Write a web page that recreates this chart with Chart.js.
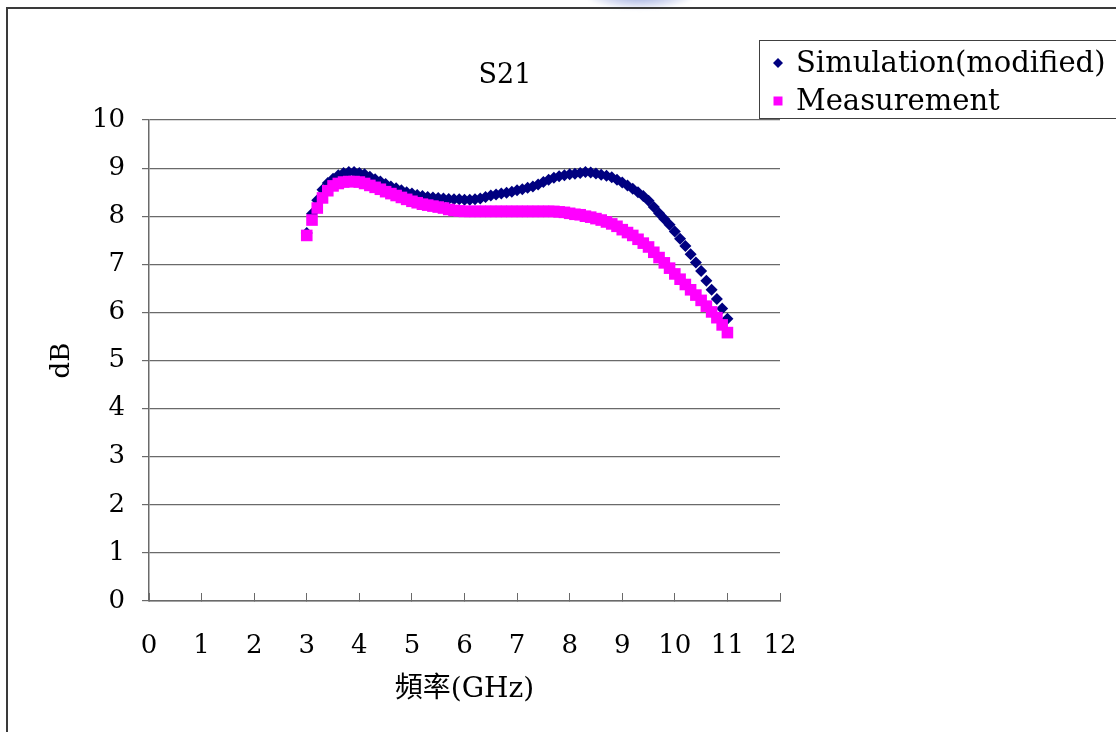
<!DOCTYPE html>
<html>
<head>
<meta charset="utf-8">
<script src="https://cdn.jsdelivr.net/npm/chart.js@4.4.1/dist/chart.umd.min.js"></script>
<style>
  body { margin: 0; background: #fff; }
  #wrap { position: relative; width: 1116px; height: 732px; overflow: hidden; }
  #marco { position: absolute; left: 6px; top: 7px; right: -10px; bottom: -10px;
           border-top: 2px solid #3a3a3a; border-left: 2px solid #3a3a3a; }
  #logo { position: absolute; left: 585px; top: -20px; width: 110px; height: 30px; border-radius: 50%;
          background: radial-gradient(ellipse at center, rgba(110,130,205,0.7) 0%, rgba(150,165,220,0.4) 45%, rgba(255,255,255,0) 72%);
          filter: blur(1.5px); }
  canvas { position: absolute; left: 0; top: 0; }
</style>
</head>
<body>
<div id="wrap">
  <div id="logo"></div>
  <div id="marco"></div>
  <canvas id="grafico" width="1116" height="732"></canvas>
</div>
<script>
// frecuencia en GHz
const frecuencias = [
  3.0, 3.1, 3.2, 3.3, 3.4, 3.5, 3.6, 3.7, 3.8, 3.9,
  4.0, 4.1, 4.2, 4.3, 4.4, 4.5, 4.6, 4.7, 4.8, 4.9,
  5.0, 5.1, 5.2, 5.3, 5.4, 5.5, 5.6, 5.7, 5.8, 5.9,
  6.0, 6.1, 6.2, 6.3, 6.4, 6.5, 6.6, 6.7, 6.8, 6.9,
  7.0, 7.1, 7.2, 7.3, 7.4, 7.5, 7.6, 7.7, 7.8, 7.9,
  8.0, 8.1, 8.2, 8.3, 8.4, 8.5, 8.6, 8.7, 8.8, 8.9,
  9.0, 9.1, 9.2, 9.3, 9.4, 9.5, 9.6, 9.7, 9.8, 9.9,
  10.0, 10.1, 10.2, 10.3, 10.4, 10.5, 10.6, 10.7, 10.8, 10.9,
  11.0
];

// S21 en dB
const simulacion = [
  7.65, 8.05, 8.33, 8.55, 8.69, 8.78, 8.85, 8.90, 8.92, 8.92,
  8.90, 8.87, 8.82, 8.77, 8.72, 8.67, 8.62, 8.58, 8.54, 8.50,
  8.47, 8.44, 8.42, 8.40, 8.39, 8.38, 8.37, 8.36, 8.35, 8.35,
  8.34, 8.34, 8.35, 8.37, 8.40, 8.43, 8.45, 8.47, 8.49, 8.51,
  8.54, 8.56, 8.59, 8.62, 8.66, 8.71, 8.76, 8.80, 8.83, 8.85,
  8.87, 8.88, 8.90, 8.92, 8.91, 8.89, 8.86, 8.84, 8.81, 8.76,
  8.70, 8.64, 8.57, 8.50, 8.42, 8.32, 8.19, 8.06, 7.94, 7.82,
  7.68, 7.53, 7.38, 7.21, 7.04, 6.86, 6.66, 6.47, 6.28, 6.08,
  5.87
];

const medicion = [
  7.60, 7.92, 8.17, 8.38, 8.53, 8.63, 8.68, 8.71, 8.72, 8.72,
  8.71, 8.68, 8.64, 8.60, 8.56, 8.51, 8.47, 8.43, 8.39, 8.35,
  8.31, 8.28, 8.25, 8.23, 8.21, 8.19, 8.17, 8.14, 8.12, 8.11,
  8.10, 8.10, 8.10, 8.10, 8.10, 8.10, 8.10, 8.10, 8.10, 8.10,
  8.10, 8.10, 8.10, 8.10, 8.10, 8.10, 8.10, 8.10, 8.09, 8.08,
  8.06, 8.04, 8.03, 8.00, 7.98, 7.95, 7.92, 7.88, 7.84, 7.79,
  7.72, 7.66, 7.60, 7.52, 7.44, 7.36, 7.25, 7.14, 7.03, 6.92,
  6.80, 6.69, 6.58, 6.47, 6.36, 6.25, 6.13, 6.01, 5.89, 5.74,
  5.58
];

const ticksX = [0, 1, 2, 3, 4, 5, 6, 7, 8, 9, 10, 11, 12];
const ticksY = [0, 1, 2, 3, 4, 5, 6, 7, 8, 9, 10];

const fuente = "'DejaVu Serif', 'Noto Sans CJK TC', serif";
const gris = "#6a6a6a";

function armarPuntos(valores) {
  return frecuencias.map((f, i) => ({ x: f, y: valores[i] }));
}

// titulo y leyenda dibujados a mano (la leyenda se sale por la derecha)
const leyendaManual = {
  id: "leyendaManual",
  afterDraw(chart) {
    const ctx = chart.ctx;
    ctx.save();
    ctx.fillStyle = "#000";
    ctx.font = "27px " + fuente;
    ctx.textAlign = "center";
    ctx.textBaseline = "middle";
    ctx.fillText("S21", 505, 76);

    ctx.strokeStyle = "#404040";
    ctx.lineWidth = 1;
    ctx.fillStyle = "#fff";
    ctx.fillRect(759, 40, 400, 78);
    ctx.strokeRect(759.5, 40.5, 400, 78);

    const filas = [63, 101];
    chart.data.datasets.forEach((ds, i) => {
      const y = filas[i];
      ctx.fillStyle = ds.backgroundColor;
      ctx.beginPath();
      if (ds.pointStyle === "rectRot") {
        ctx.moveTo(778, y - 5);
        ctx.lineTo(783, y);
        ctx.lineTo(778, y + 5);
        ctx.lineTo(773, y);
      } else {
        ctx.rect(773.5, y - 4.5, 9, 9);
      }
      ctx.closePath();
      ctx.fill();
      ctx.fillStyle = "#000";
      ctx.font = "29px " + fuente;
      ctx.textAlign = "left";
      ctx.fillText(ds.label, 796, y + 1);
    });
    ctx.restore();
  }
};

const ctx = document.getElementById("grafico");
new Chart(ctx, {
  type: "scatter",
  data: {
    datasets: [
      {
        label: "Simulation(modified)",
        data: armarPuntos(simulacion),
        pointStyle: "rectRot",
        pointRadius: 6,
        backgroundColor: "#000080",
        borderColor: "#000080",
        borderWidth: 0,
        showLine: false,
        order: 1,
      },
      {
        label: "Measurement",
        data: armarPuntos(medicion),
        pointStyle: "rect",
        pointRadius: 8.2,
        backgroundColor: "#ff00ff",
        borderColor: "#ff00ff",
        borderWidth: 0,
        showLine: false,
        order: 0,
      },
    ],
  },
  options: {
    responsive: false,
    animation: false,
    layout: { padding: { left: 0, top: 120, right: 336, bottom: 0 } },
    plugins: {
      legend: { display: false },
      title: { display: false },
      tooltip: { enabled: false },
    },
    scales: {
      x: {
        type: "linear",
        min: 0,
        max: 12,
        afterBuildTicks: (s) => { s.ticks = ticksX.map((v) => ({ value: v })); },
        afterFit: (s) => { s.height = 131; },
        grid: { drawOnChartArea: false, color: gris, tickLength: -8, lineWidth: 1 },
        border: { color: gris, width: 1.5 },
        ticks: { color: "#000", font: { family: fuente, size: 26 }, padding: 38, maxRotation: 0 },
        title: {
          display: true,
          text: "頻率(GHz)",
          color: "#000",
          font: { family: fuente, size: 28 },
          padding: { top: 0, bottom: 25 },
        },
      },
      y: {
        min: 0,
        max: 10,
        afterBuildTicks: (s) => { s.ticks = ticksY.map((v) => ({ value: v })); },
        afterFit: (s) => { s.width = 149; },
        grid: { color: gris, tickLength: 7, lineWidth: 1.2 },
        border: { color: gris, width: 1.5 },
        ticks: { color: "#000", font: { family: fuente, size: 26 }, padding: 17 },
        title: {
          display: true,
          text: "dB",
          color: "#000",
          font: { family: fuente, size: 26 },
          padding: { top: 47, bottom: 0 },
        },
      },
    },
  },
  plugins: [leyendaManual],
});
</script>
</body>
</html>
